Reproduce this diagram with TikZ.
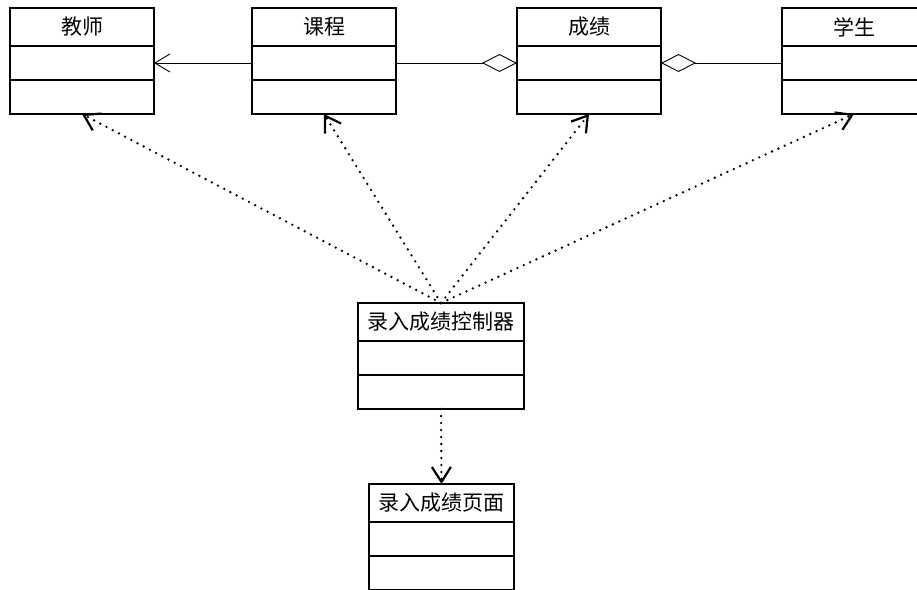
\documentclass[tikz,border=0pt]{standalone}
\usepackage{fontspec}
\setmainfont{Noto Sans CJK SC}
\usepackage{tikz}
\usetikzlibrary{shapes}
\usetikzlibrary{arrows.meta}
\usetikzlibrary{positioning}
\tikzstyle{classhead}=[draw, line width=1.7pt, outer sep=0pt, inner sep=2pt, minimum height=38pt, font=\fontsize{21}{23}\selectfont]
\tikzstyle{classpart}=[draw, line width=1.7pt, outer sep=0pt, inner sep=0pt, minimum height=34pt]
\tikzstyle{dep}=[line width=2.6pt, line cap=round, dash pattern=on 0pt off 7pt, -{Straight Barb[length=15pt,width=19pt,line width=2.2pt]}]
\tikzstyle{assoc}=[line width=0.9pt, -{Straight Barb[length=15pt,width=18pt,line width=0.9pt]}]
\tikzstyle{aggr}=[line width=0.9pt, -{Diamond[open,length=35pt,width=18pt,line width=0.9pt]}]

\begin{document}
\begin{tikzpicture}[x=1pt,y=-1pt]
\useasboundingbox (0,0) rectangle (917,589);
\clip (0,0) rectangle (917,589);
\foreach \n/\x/\t in {teacher/10/教师,course/252/课程,grade/517/成绩,student/782/学生} {
	\node[classhead, minimum width=144pt, anchor=north west] (\n) at (\x,8) {\t};
	\node[classpart, minimum width=144pt, below=0pt of \n] (\n2) {};
	\node[classpart, minimum width=144pt, below=0pt of \n2] (\n3) {};
}
\node[classhead, minimum width=166pt, anchor=north west] (ctrl) at (358,303) {录入成绩控制器};
\node[classpart, minimum width=166pt, below=0pt of ctrl] (ctrl2) {};
\node[classpart, minimum width=166pt, below=0pt of ctrl2] (ctrl3) {};
\node[classhead, minimum width=145pt, anchor=north west] (page) at (369,484) {录入成绩页面};
\node[classpart, minimum width=145pt, below=0pt of page] (page2) {};
\node[classpart, minimum width=145pt, below=0pt of page2] (page3) {};
% associations
\draw[assoc] (course2.west) -- (teacher2.east);
\draw[aggr] (course2.east) -- (grade2.west);
\draw[aggr] (student2.west) -- (grade2.east);
% dependencies
\foreach \n in {teacher,course,grade,student} {
	\draw[dep] (ctrl.north) -- (\n3.south);
}
\draw[dep] (ctrl3.south) -- (page.north);
\end{tikzpicture}
\end{document}
